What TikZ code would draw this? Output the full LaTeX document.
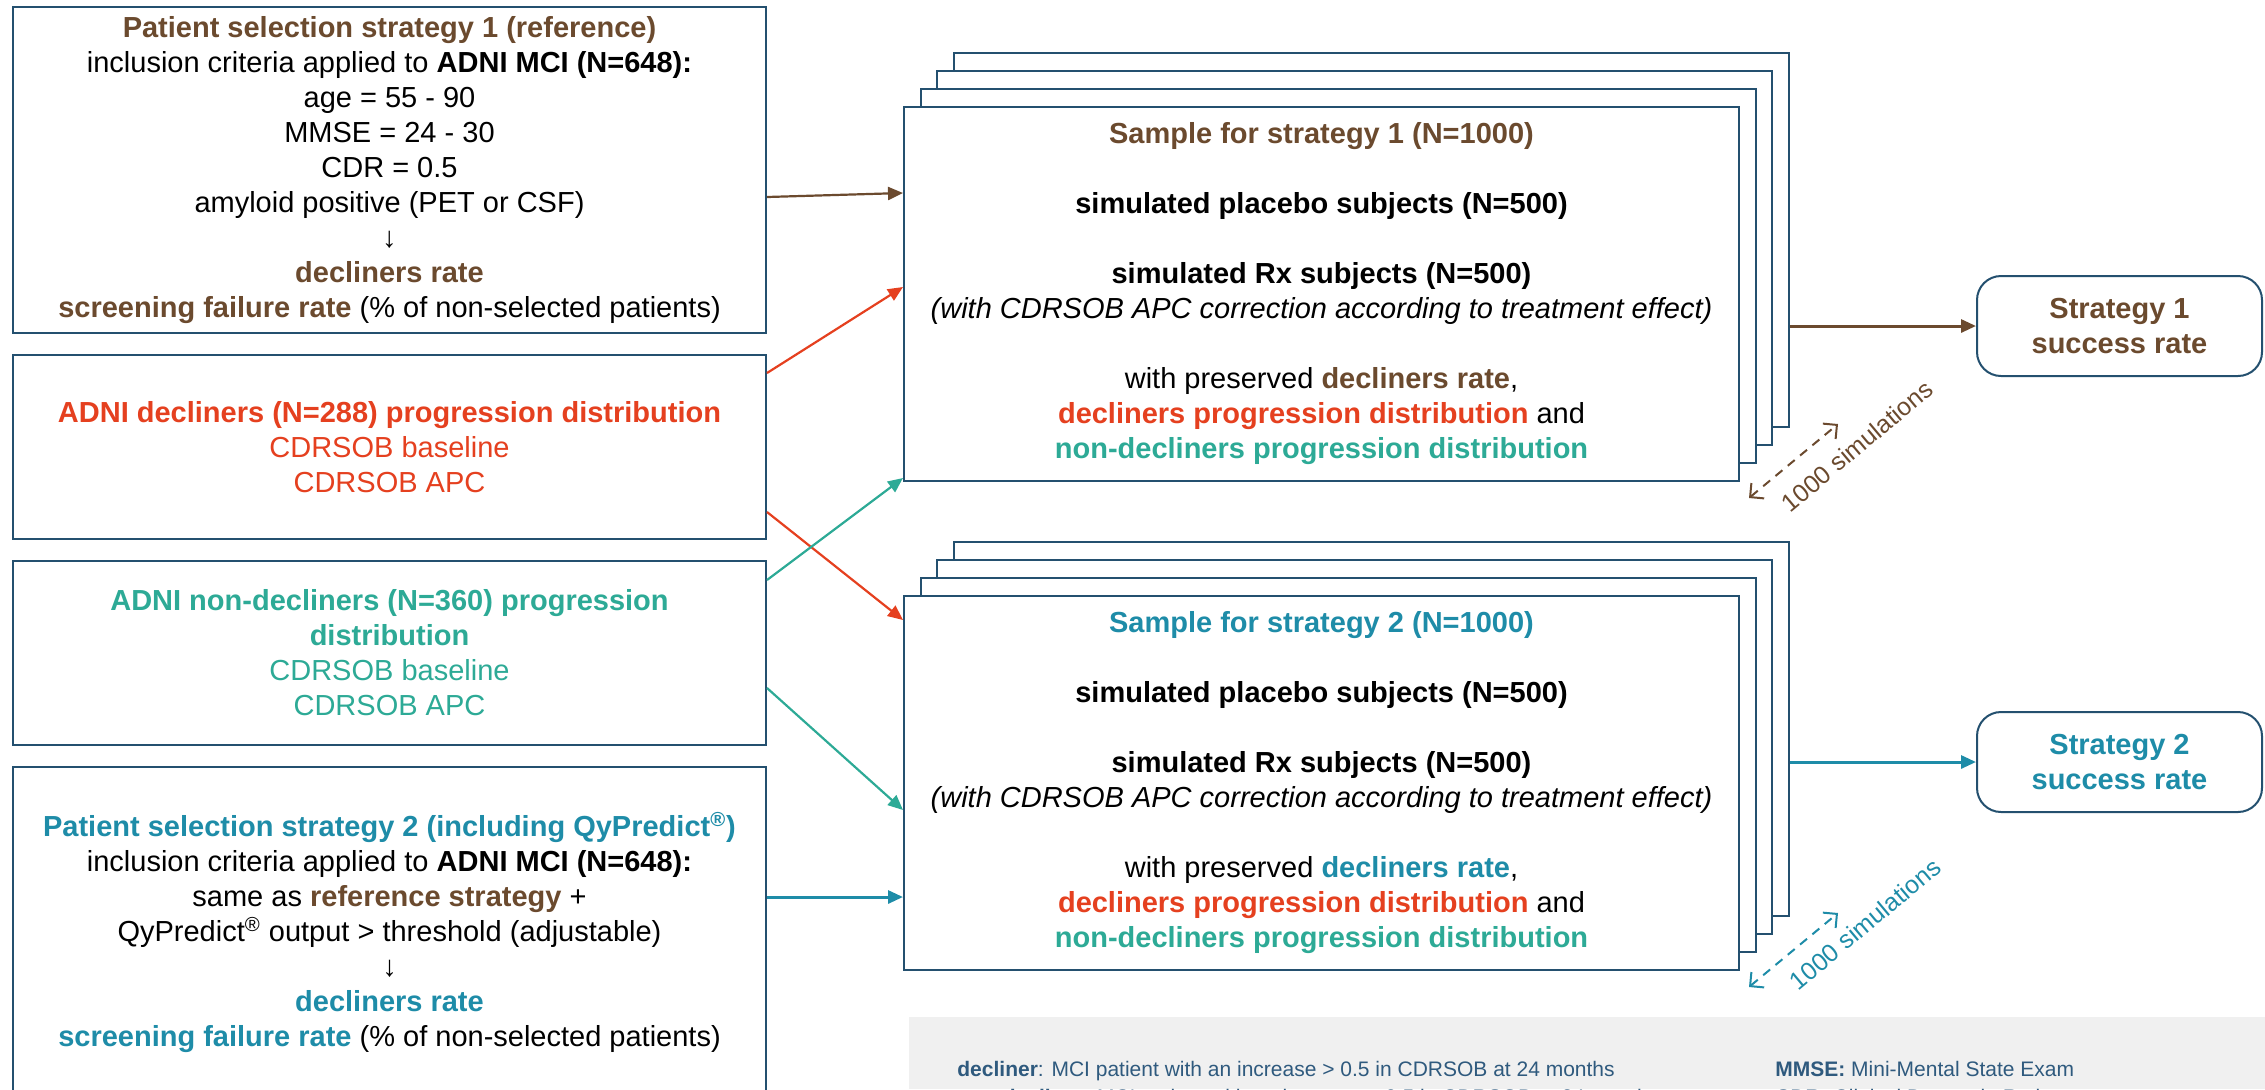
\documentclass[tikz,border=0pt]{standalone}
\usepackage{fontspec}
\setmainfont{Liberation Sans}
\usetikzlibrary{calc,arrows.meta}
\definecolor{frame}{HTML}{24506F}
\definecolor{brn}{HTML}{6B4A2E}
\definecolor{dcl}{HTML}{E5401F}
\definecolor{ndc}{HTML}{2DAA96}
\definecolor{st2}{HTML}{1E8CA8}
\definecolor{legbg}{HTML}{F0F0F0}
\definecolor{legtx}{HTML}{2F5A7E}
\newcommand{\bodyfont}{\fontsize{14.5}{17.5}\selectfont}
\tikzset{
  box/.style={draw=frame, line width=1pt, fill=white, inner sep=0pt, align=center, font=\bodyfont},
  sel/.style={box, minimum width=376.5pt},
  sheet/.style={box, minimum width=417.5pt, minimum height=187pt},
  goal/.style={box, rounded corners=12pt, minimum width=142.5pt, minimum height=50pt, font=\bodyfont\bfseries},
  feed/.style={-{Triangle[length=7.5pt,width=6.5pt]}, line width=1.1pt},
  sims/.style={dash pattern=on 4.5pt off 3.5pt, {Straight Barb[length=5pt,width=10pt]}-{Straight Barb[length=5pt,width=10pt]}, line width=1pt},
  leg/.style={anchor=base west, inner sep=0pt, text=legtx, font=\fontsize{10.5}{12.5}\selectfont}
}

\begin{document}
\begin{tikzpicture}[x=0.5pt, y=-0.5pt]
  \useasboundingbox (0,0) rectangle (2265,1089);
  \clip (0,0) rectangle (2265,1089);

  \node[sel, minimum height=163pt] (sel1) at (389.5,170) {\textcolor{brn}{\textbf{Patient selection strategy 1 (reference)}}\\
    inclusion criteria applied to \textbf{ADNI MCI (N=648):}\\
    age = 55 - 90\\ MMSE = 24 - 30\\ CDR = 0.5\\ amyloid positive (PET or CSF)\\ ↓\\
    \textcolor{brn}{\textbf{decliners rate}}\\
    \textcolor{brn}{\textbf{screening failure rate}} (\% of non-selected patients)};
  \node[sel, minimum height=92pt, text=dcl] (decl) at (389.5,447)
    {\textbf{ADNI decliners (N=288) progression distribution}\\ CDRSOB baseline\\ CDRSOB APC};
  \node[sel, minimum height=92pt, text=ndc] (nondecl) at (389.5,653)
    {\textbf{ADNI non-decliners (N=360) progression}\\ \textbf{distribution}\\ CDRSOB baseline\\ CDRSOB APC};
  \node[sel, minimum height=165.5pt] (sel2) at (389.5,932.5) {\textcolor{st2}{\textbf{Patient selection strategy 2 (including QyPredict\textsuperscript{®})}}\\
    inclusion criteria applied to \textbf{ADNI MCI (N=648):}\\
    same as \textcolor{brn}{\textbf{reference strategy}} +\\
    QyPredict\textsuperscript{®} output > threshold (adjustable)\\ ↓\\
    \textcolor{st2}{\textbf{decliners rate}}\\
    \textcolor{st2}{\textbf{screening failure rate}} (\% of non-selected patients)};

  \foreach \s/\y/\c in {1/294/brn, 2/783/st2} {
    \foreach \k in {3,2,1}
      \node[sheet] (samp\s l\k) at ($(1321.5,\y)+(16.5*\k,-18*\k)$) {};
    \node[sheet] (samp\s) at (1321.5,\y) {\textcolor{\c}{\textbf{Sample for strategy \s\ (N=1000)}}\\[17.5pt]
      \textbf{simulated placebo subjects (N=500)}\\[17.5pt]
      \textbf{simulated Rx subjects (N=500)}\\
      \textit{(with CDRSOB APC correction according to treatment effect)}\\[17.5pt]
      with preserved \textcolor{\c}{\textbf{decliners rate}},\\
      \textcolor{dcl}{\textbf{decliners progression distribution}} and\\
      \textcolor{ndc}{\textbf{non-decliners progression distribution}}};
  }

  \node[goal, text=brn] (goal1) at (2119.5,326) {Strategy 1\\ success rate};
  \node[goal, text=st2] (goal2) at (2119.5,762) {Strategy 2\\ success rate};

  \draw[feed, brn] ($(sel1.east)+(0,27)$) -- ($(samp1.west)+(0,-101)$);
  \draw[feed, dcl] ($(decl.east)+(0,-74)$) -- ($(samp1.west)+(0,-7)$);
  \draw[feed, dcl] ($(decl.east)+(0,65)$) -- ($(samp2.west)+(0,-163)$);
  \draw[feed, ndc] ($(nondecl.east)+(0,-73)$) -- ($(samp1.west)+(0,184)$);
  \draw[feed, ndc] ($(nondecl.east)+(0,35)$) -- ($(samp2.west)+(0,27)$);
  \draw[feed, st2, line width=1.5pt] ($(sel2.east)+(0,-35.5)$) -- ($(samp2.west)+(0,114)$);
  \draw[feed, brn, line width=1.5pt] (samp1l3.east |- goal1) -- (goal1);
  \draw[feed, st2, line width=1.5pt] (samp2l3.east |- goal2) -- (goal2);

  \foreach \s/\c/\dx/\dy in {1/brn/117/-36, 2/st2/125/-47} {
    \coordinate (sim\s a) at ($(samp\s.south east)+(9,16)$);
    \coordinate (sim\s b) at ($(samp\s.south east)+(98,-58)$);
    \draw[sims, \c] (sim\s a) -- (sim\s b);
    \node[rotate=40, text=\c, font=\fontsize{12.5}{14}\selectfont] (simtxt\s) at ($(samp\s.south east)+(\dx,\dy)$) {1000 simulations};
  }

  \fill[legbg] (909,1017) rectangle (2265,1089);
  \node[leg] (legdec) at (957,1076) {\textbf{decliner}: MCI patient with an increase > 0.5 in CDRSOB at 24 months};
  \node[leg] (legnon) at (957,1104) {\textbf{non-decliner}: MCI patient with an increase ≤ 0.5 in CDRSOB at 24 months};
  \node[leg] (legmmse) at (1775,1076) {\textbf{MMSE:} Mini-Mental State Exam};
  \node[leg] (legcdr) at (1775,1104) {\textbf{CDR:} Clinical Dementia Rating};
\end{tikzpicture}
\end{document}
